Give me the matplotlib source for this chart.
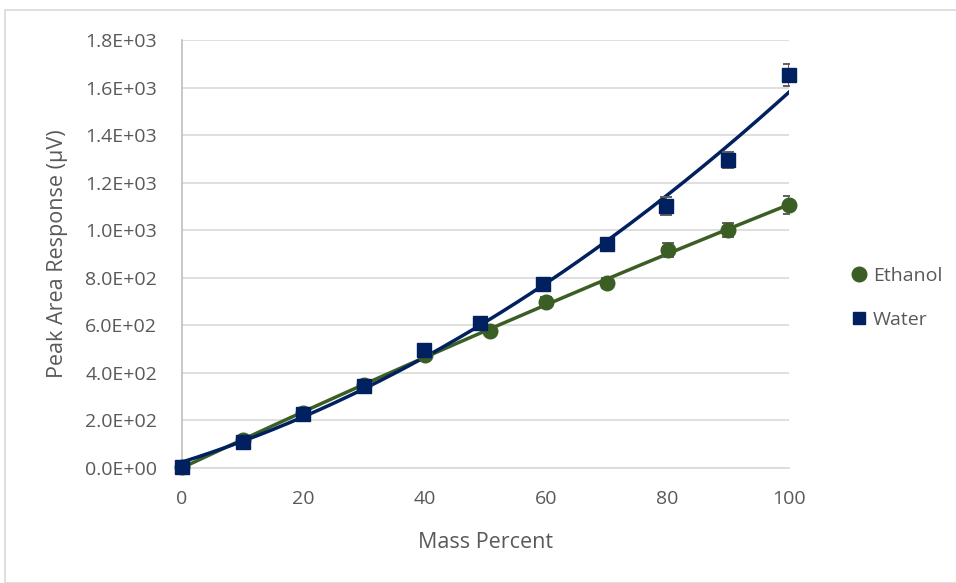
import numpy as np
import matplotlib.pyplot as plt
from matplotlib.patches import Rectangle
from matplotlib.lines import Line2D
from matplotlib.ticker import FuncFormatter

plt.rcParams['font.family'] = ['Open Sans', 'DejaVu Sans']

ethanol_x = [0, 10, 20, 30, 40, 50.7, 60, 70, 80, 90, 100]
ethanol_y = [5, 118, 231, 349, 475, 576, 698, 778, 917, 1001, 1106]
ethanol_err = [8, 15, 15, 15, 18, 18, 20, 20, 30, 30, 36]

water_x = [0, 10, 20, 30, 39.9, 49.1, 59.5, 70, 79.7, 90, 100]
water_y = [4, 109, 227, 345, 496, 610, 774, 942, 1102, 1295, 1653]
water_err = [8, 15, 15, 18, 20, 20, 22, 24, 36, 34, 48]

yticks = [0, 200, 400, 600, 800, 1000, 1200, 1400, 1600, 1800]
xticks = [0, 20, 40, 60, 80, 100]

green = '#3B5E24'
navy = '#002060'
gray_text = '#595959'

fig = plt.figure(figsize=(9.56, 5.83), dpi=100)
fig.patches.append(Rectangle((5/956, 0), 1.2, 1 - 10/583, transform=fig.transFigure,
                             fill=False, edgecolor='#D9D9D9', linewidth=1.2))
ax = fig.add_axes([182/956, 1 - 468/583, (789 - 182)/956, (468 - 40)/583])

xs = np.linspace(0, 100, 200)
ce = np.polyfit(ethanol_x, ethanol_y, 2)
cw = np.polyfit(water_x, water_y, 2)
ax.plot(xs, np.polyval(ce, xs), color=green, lw=2.5, zorder=3)
ax.plot(xs, np.polyval(cw, xs), color=navy, lw=2.5, zorder=3)

for xv, yv, ev, mk, col, ms, z in [(ethanol_x, ethanol_y, ethanol_err, 'o', green, 10.5, 4),
                                   (water_x, water_y, water_err, 's', navy, 9.5, 5)]:
    ax.errorbar(xv, yv, yerr=ev, fmt='none', ecolor='#606060', elinewidth=1.4,
                capsize=4, capthick=1.4, zorder=z)
    ax.plot(xv, yv, ls='none', marker=mk, color=col, ms=ms, zorder=z + 0.5, clip_on=False)

ax.set_xlim(0, 100)
ax.set_ylim(0, 1800)
ax.set_xticks(xticks)
ax.set_yticks(yticks)
ax.yaxis.set_major_formatter(FuncFormatter(lambda v, p: f"{v:.1E}"))
ax.grid(axis='y', color='#D9D9D9', lw=1.2)
ax.set_axisbelow(True)
for s in ['top', 'right']:
    ax.spines[s].set_visible(False)
ax.spines['left'].set_color('#BFBFBF')
ax.spines['bottom'].set_color('#D9D9D9')
ax.spines['left'].set_linewidth(1.2)
ax.spines['bottom'].set_linewidth(1.2)
ax.tick_params(axis='both', length=0, labelsize=14, labelcolor=gray_text)
ax.tick_params(axis='y', pad=18)
ax.tick_params(axis='x', pad=16)
ax.set_xlabel('Mass Percent', fontsize=15.5, color=gray_text, labelpad=17)
ax.set_ylabel('Peak Area Response (µV)', fontsize=15.5, color=gray_text, labelpad=12)

h = [Line2D([], [], marker='o', color=green, ls='none', ms=10.5),
     Line2D([], [], marker='s', color=navy, ls='none', ms=9)]
fig.legend(h, ['Ethanol', 'Water'], loc='center left', bbox_to_anchor=(832/956, 1 - 298/583),
           frameon=False, fontsize=14, labelcolor=gray_text, handletextpad=0.2,
           labelspacing=1.35, handlelength=1.0)

fig.savefig('out.png', dpi=100)
